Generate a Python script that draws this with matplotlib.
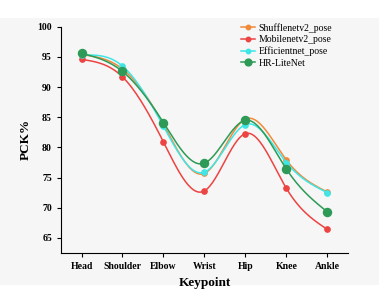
import numpy as np
import matplotlib
matplotlib.use("Agg")
import matplotlib.pyplot as plt
from matplotlib.patches import Rectangle

keypoints = ["Head", "Shoulder", "Elbow", "Wrist", "Hip", "Knee", "Ankle"]
shufflenet = [95.4, 93.0, 83.8, 75.7, 84.7, 77.9, 72.6]
mobilenet = [94.6, 91.7, 80.9, 72.8, 82.3, 73.2, 66.4]
efficientnet = [95.3, 93.5, 83.5, 75.9, 83.8, 77.5, 72.5]
hrlitenet = [95.6, 92.6, 84.1, 77.4, 84.5, 76.4, 69.3]


def spline(y, n=30):
    # natural cubic spline through evenly spaced points, for the smooth look
    y = np.asarray(y, float)
    k = len(y)
    A = np.zeros((k, k))
    r = np.zeros(k)
    A[0, 0] = A[-1, -1] = 1
    for i in range(1, k - 1):
        A[i, i - 1], A[i, i], A[i, i + 1] = 1, 4, 1
        r[i] = 6 * (y[i + 1] - 2 * y[i] + y[i - 1])
    m = np.linalg.solve(A, r)
    xs, ys = [], []
    for i in range(k - 1):
        t = np.linspace(0, 1, n, endpoint=(i == k - 2))
        a = y[i]
        b = y[i + 1] - y[i] - (2 * m[i] + m[i + 1]) / 6
        c = m[i] / 2
        d = (m[i + 1] - m[i]) / 6
        xs.append(i + t)
        ys.append(a + b * t + c * t**2 + d * t**3)
    return np.concatenate(xs), np.concatenate(ys)


plt.rcParams["font.family"] = "Liberation Serif"

fig = plt.figure(figsize=(3.79, 2.98), dpi=100)
fig.patches.append(Rectangle((0, 0.045), 1, 0.895, transform=fig.transFigure,
                             facecolor="#f6f6f6", edgecolor="none", zorder=-1))
ax = fig.add_axes([0.161, 0.151, 0.757, 0.759])
ax.set_facecolor("none")

series = [
    ("Shufflenetv2_pose", shufflenet, "#f08a3a", 3.8),
    ("Mobilenetv2_pose", mobilenet, "#ec4442", 3.8),
    ("Efficientnet_pose", efficientnet, "#3ee6e6", 3.8),
    ("HR-LiteNet", hrlitenet, "#2e9a58", 5.8),
]
x = np.arange(len(keypoints))
for name, vals, col, ms in series:
    sx, sy = spline(vals)
    ax.plot(sx, sy, color=col, lw=1.1)
    ax.plot(x, vals, "o", color=col, ms=ms)
    ax.plot([], [], "-o", color=col, ms=ms * 0.85, lw=1.1, label=name)

ax.set_xlim(-0.5, 6.5)
ax.set_ylim(62.5, 100)
ax.set_xticks(x)
ax.set_xticklabels(keypoints, fontweight="bold", fontsize=7)
ax.set_yticks([65, 70, 75, 80, 85, 90, 95, 100])
for lab in ax.get_yticklabels():
    lab.set_fontweight("bold")
    lab.set_fontsize(7)
ax.tick_params(length=3, width=0.8)
ax.spines["top"].set_visible(False)
ax.spines["right"].set_visible(False)
ax.set_xlabel("Keypoint", fontweight="bold", fontsize=9.5)
ax.set_ylabel("PCK%", fontweight="bold", fontsize=9.5)
ax.legend(loc="upper right", bbox_to_anchor=(0.975, 1.055), frameon=False,
          fontsize=7, handlelength=1.5, handletextpad=0.3, labelspacing=0.25)

fig.savefig("out.png", dpi=100)
